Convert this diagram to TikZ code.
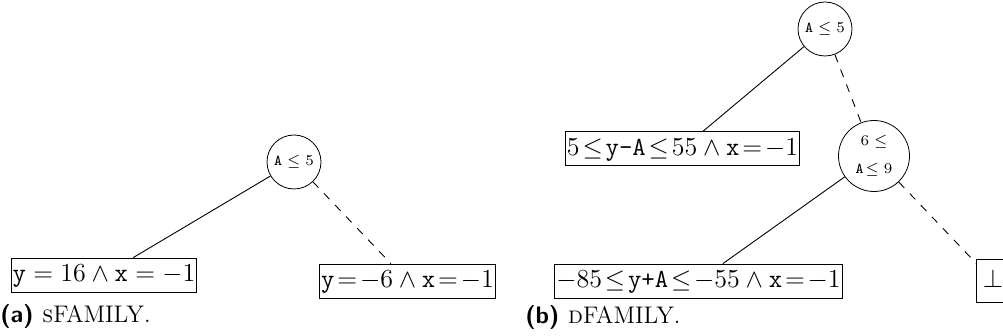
\RequirePackage{fix-cm}
\documentclass[tikz,border=0pt]{standalone}
\usepackage{amsmath}
\begin{document}
\begin{tikzpicture}[x=0.5pt,y=-0.5pt,
  cond/.style={draw,circle,inner sep=0pt,font=\fontsize{7.5}{9}\selectfont},
  leaf/.style={draw,rectangle,inner sep=0.8pt,font=\fontsize{13}{15}\selectfont,text height=11.2pt,text depth=4.2pt},
  captext/.style={anchor=base west,inner sep=0pt,font=\fontsize{12}{14}\selectfont},
  yes/.style={line width=0.45pt},
  no/.style={line width=0.45pt,dash pattern=on 4pt off 4pt}]
\useasboundingbox (0,0) rectangle (1003,336);
\clip (0,0) rectangle (1003,336);
% (a)
\node[cond,minimum size=27pt] (ar) at (294,162) {$\texttt{A}\le 5$};
\node[leaf] (al) at (104,275) {$\texttt{y}=16\wedge\texttt{x}=-1$};
\node[leaf] (aR) at (407.5,281) {$\texttt{y}\mathrel{\mkern-3mu=\mkern-3mu}-6\wedge\texttt{x}\mathrel{\mkern-3mu=\mkern-3mu}-1$};
\draw[yes] (ar) -- (al);
\draw[no] (ar) -- (aR);
\node[captext] (capa) at (0,323) {\sffamily\bfseries (a)\ \normalfont\textsc{s}FAMILY.};
% (b)
\node[cond,minimum size=27pt] (br) at (825,29) {$\texttt{A}\le 5$};
\node[leaf] (b1) at (682.5,148.5) {$5\mathrel{\mkern-3mu\le\mkern-3mu}\texttt{y-A}\mathrel{\mkern-3mu\le\mkern-3mu}55\wedge\texttt{x}\mathrel{\mkern-3mu=\mkern-3mu}-1$};
\node[cond,minimum size=35.5pt,align=center] (bc) at (874,156) {$6\le$\\[5pt]$\texttt{A}\!\le 9$};
\node[leaf] (b2) at (698.5,281) {$-85\mathrel{\mkern-3mu\le\mkern-3mu}\texttt{y+A}\mathrel{\mkern-3mu\le\mkern-3mu}-55\wedge\texttt{x}\mathrel{\mkern-3mu=\mkern-3mu}-1$};
\node[leaf,inner sep=3pt] (b3) at (993,281) {$\bot$};
\draw[yes] (br) -- (b1);
\draw[no] (br) -- (bc);
\draw[yes] (bc) -- (b2);
\draw[no] (bc) -- (b3);
\node[captext] (capb) at (525,324) {\sffamily\bfseries (b)\ \normalfont\textsc{d}FAMILY.};
\end{tikzpicture}
\end{document}
